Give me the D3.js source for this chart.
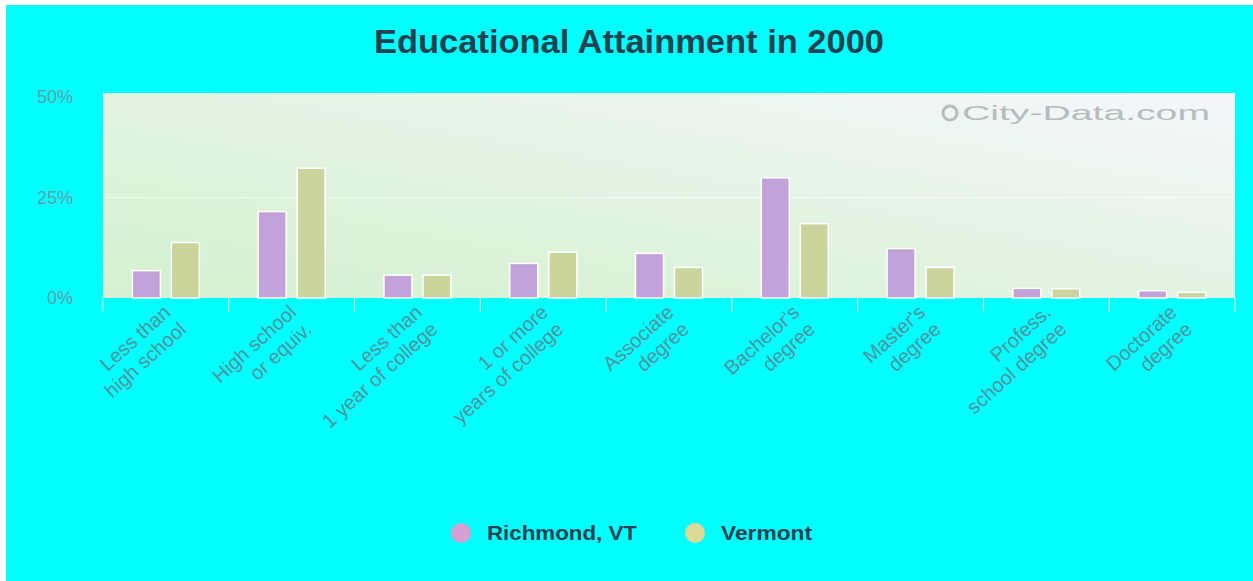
<!DOCTYPE html>
<html>
<head>
<meta charset="utf-8">
<script src="https://cdn.jsdelivr.net/npm/d3@7/dist/d3.min.js"></script>
<style>
  html, body { margin: 0; padding: 0; background: #ffffff; }
  svg { display: block; }
</style>
</head>
<body>
<svg id="chart" width="1253" height="581"></svg>
<script>
// Educational attainment, share of population 25+ (%)
const categories = [
  ["Less than", "high school"],
  ["High school", "or equiv."],
  ["Less than", "1 year of college"],
  ["1 or more", "years of college"],
  ["Associate", "degree"],
  ["Bachelor's", "degree"],
  ["Master's", "degree"],
  ["Profess.", "school degree"],
  ["Doctorate", "degree"]
];
const seriesNames = ["Richmond, VT", "Vermont"];
const richmond = [6.8, 21.5, 5.7, 8.6, 11.1, 29.9, 12.3, 2.4, 1.8];
const vermont  = [13.8, 32.3, 5.7, 11.4, 7.6, 18.5, 7.6, 2.3, 1.4];
const yTicks = [0, 25, 50];
const yTickLabels = ["0%", "25%", "50%"];

const barColors = ["#c2a2d8", "#c9d59c"];
const legendColors = ["#d7a0d4", "#dcd896"];
const font = "Liberation Sans, Arial, sans-serif";

const svg = d3.select("#chart");
const W = 1253, H = 581;

// page frame
svg.append("rect").attr("x", 6).attr("y", 5).attr("width", W - 6).attr("height", H - 5).attr("fill", "#00ffff");

const plot = { left: 103, right: 1235, top: 93, bottom: 298 };

const defs = svg.append("defs");
const grad = defs.append("linearGradient").attr("id", "plotBg")
  .attr("x1", "0%").attr("y1", "100%").attr("x2", "100%").attr("y2", "0%");
grad.append("stop").attr("offset", "0%").attr("stop-color", "#d3f1cf");
grad.append("stop").attr("offset", "55%").attr("stop-color", "#e4f4e4");
grad.append("stop").attr("offset", "100%").attr("stop-color", "#f5f6fb");

svg.append("rect")
  .attr("x", plot.left).attr("y", plot.top)
  .attr("width", plot.right - plot.left).attr("height", plot.bottom - plot.top)
  .attr("fill", "url(#plotBg)");

const x0 = d3.scaleBand().domain(d3.range(categories.length)).range([plot.left, plot.right]).padding(0);
const y = d3.scaleLinear().domain([0, 50]).range([plot.bottom, 97]);

// gridline at 25%
svg.append("g").selectAll("line").data(yTicks.filter(t => t > 0 && t < 50)).join("line")
  .attr("x1", plot.left).attr("x2", plot.right)
  .attr("y1", d => y(d)).attr("y2", d => y(d))
  .attr("stroke", "#ffffff").attr("stroke-opacity", 0.6).attr("stroke-width", 1);

// watermark
const wm = svg.append("g").attr("fill", "#b4bcbe");
wm.append("text")
  .attr("x", 1210).attr("y", 120)
  .attr("text-anchor", "end")
  .attr("font-family", font)
  .attr("font-size", 21)
  .attr("textLength", 248)
  .attr("lengthAdjust", "spacingAndGlyphs")
  .text("City-Data.com");
wm.append("circle").attr("cx", 950).attr("cy", 113).attr("r", 7)
  .attr("fill", "none").attr("stroke", "#b4bcbe").attr("stroke-width", 3);

// bars
const barW = 28, gap = 11;
const groups = svg.append("g").selectAll("g").data(categories).join("g")
  .attr("transform", (d, i) => `translate(${x0(i) + x0.bandwidth() / 2},0)`);
[richmond, vermont].forEach((vals, s) => {
  groups.append("rect")
    .attr("x", s === 0 ? -(barW + gap / 2) : gap / 2)
    .attr("width", barW)
    .attr("y", (d, i) => y(vals[i]))
    .attr("height", (d, i) => plot.bottom - y(vals[i]))
    .attr("fill", barColors[s])
    .attr("stroke", "#ffffff").attr("stroke-width", 1.5);
});

// y axis labels
const yAxis = d3.axisLeft(y).tickValues(yTicks).tickFormat((d, i) => yTickLabels[i]).tickSize(0).tickPadding(0);
const yg = svg.append("g").attr("transform", `translate(73,0)`).call(yAxis);
yg.select(".domain").remove();
yg.selectAll("text")
  .attr("font-family", font)
  .attr("font-size", 18)
  .attr("fill", "#5aa3ab");

// x axis separators
const xg = svg.append("g");
xg.selectAll("line").data(d3.range(categories.length + 1)).join("line")
  .attr("x1", i => i < categories.length ? x0(i) : plot.right)
  .attr("x2", i => i < categories.length ? x0(i) : plot.right)
  .attr("y1", plot.bottom).attr("y2", plot.bottom + 14)
  .attr("stroke", "#e8fafa").attr("stroke-width", 1);

// rotated category labels
const lab = svg.append("g").selectAll("text").data(categories).join("text")
  .attr("transform", (d, i) => `translate(${x0(i) + x0.bandwidth() / 2 + 6},314) rotate(-42)`)
  .attr("text-anchor", "end")
  .attr("font-family", font)
  .attr("font-size", 20)
  .attr("fill", "#4f949c");
lab.each(function (d) {
  const t = d3.select(this);
  d.forEach((line, k) => {
    t.append("tspan").attr("x", 0).attr("dy", k === 0 ? 0 : 23).text(line);
  });
});

// title
svg.append("text")
  .attr("x", 629).attr("y", 53)
  .attr("text-anchor", "middle")
  .attr("font-family", font)
  .attr("font-weight", "bold")
  .attr("font-size", 34)
  .attr("textLength", 510)
  .attr("lengthAdjust", "spacingAndGlyphs")
  .attr("fill", "#1f4250")
  .text("Educational Attainment in 2000");

// legend
const legendX = [461, 695];
const legendW = [150, 91];
const lg = svg.append("g").selectAll("g").data(seriesNames).join("g")
  .attr("transform", (d, i) => `translate(${legendX[i]},533)`);
lg.append("circle").attr("r", 10).attr("fill", (d, i) => legendColors[i]);
lg.append("text")
  .attr("x", 26).attr("y", 7)
  .attr("font-family", font)
  .attr("font-weight", "bold")
  .attr("font-size", 20)
  .attr("textLength", (d, i) => legendW[i])
  .attr("lengthAdjust", "spacingAndGlyphs")
  .attr("fill", "#1f4250")
  .text(d => d);
</script>
</body>
</html>
